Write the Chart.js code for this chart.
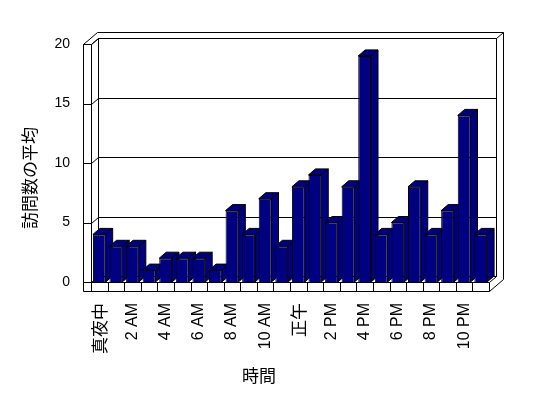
<!DOCTYPE html>
<html lang="ja">
<head>
<meta charset="UTF-8">
<title>訪問数の平均</title>
<script src="https://cdn.jsdelivr.net/npm/chart.js@4.4.1/dist/chart.umd.min.js"></script>
<style>
  html, body { margin: 0; padding: 0; background: #fff; }
  #wrap { width: 548px; height: 398px; }
</style>
</head>
<body>
<div id="wrap"><canvas id="visitChart" width="548" height="398"></canvas></div>
<script>
// data
const hours = ['真夜中', '1 AM', '2 AM', '3 AM', '4 AM', '5 AM', '6 AM', '7 AM', '8 AM', '9 AM', '10 AM', '11 AM',
               '正午', '1 PM', '2 PM', '3 PM', '4 PM', '5 PM', '6 PM', '7 PM', '8 PM', '9 PM', '10 PM', '11 PM'];
const visits = [4, 3, 3, 1, 2, 2, 2, 1, 6, 4, 7, 3, 8, 9, 5, 8, 19, 4, 5, 8, 4, 6, 14, 4];
const yTicks = [0, 5, 10, 15, 20];
const xTitle = '時間';
const yTitle = '訪問数の平均';

const NAVY = '#000080';
const DX = 7, DY = -6;      // depth of the fake 3d
const WALL = 8, FLOOR = 9;  // wall / floor thickness
const LATIN = '"Liberation Sans", "Noto Sans CJK JP", sans-serif';
const CJK = '"Noto Sans CJK JP", sans-serif';

function line(ctx, pts) {
    ctx.beginPath();
    pts.forEach((p, i) => {
        const px = Math.round(p[0]) + 0.5, py = Math.round(p[1]) + 0.5;
        if (i === 0) ctx.moveTo(px, py); else ctx.lineTo(px, py);
    });
    ctx.stroke();
}

function poly(ctx, pts) {
    ctx.beginPath();
    pts.forEach((p, i) => { if (i === 0) ctx.moveTo(p[0], p[1]); else ctx.lineTo(p[0], p[1]); });
    ctx.closePath();
    ctx.fillStyle = NAVY;
    ctx.fill();
    ctx.stroke();
}

const box3d = {
    id: 'box3d',
    beforeDatasetsDraw(chart) {
        const { ctx, chartArea: a, scales: { x, y } } = chart;
        const L = a.left, R = a.right, T = a.top, B = a.bottom;
        ctx.save();
        ctx.strokeStyle = '#000';
        ctx.lineWidth = 1;
        // walls
        line(ctx, [[L - WALL, B + FLOOR], [L - WALL, T], [L - WALL + 2 * DX, T + 2 * DY], [R + 2 * DX, T + 2 * DY], [R + 2 * DX, B + FLOOR + 2 * DY]]);
        line(ctx, [[L, B], [L, T], [L + DX, T + DY], [R + DX, T + DY], [R + DX, B + DY]]);
        line(ctx, [[L + DX, T + DY], [L + DX, B + DY]]);
        line(ctx, [[R + DX, T + DY], [R + 2 * DX, T + 2 * DY]]);
        // value lines on the walls
        yTicks.forEach(v => {
            const yy = y.getPixelForValue(v);
            line(ctx, [[L - WALL, yy], [L, yy], [L + DX, yy + DY], [R + DX, yy + DY]]);
        });
        // floor
        line(ctx, [[L, B], [R, B], [R + DX, B + DY]]);
        line(ctx, [[L - WALL, B + FLOOR], [R, B + FLOOR], [R + 2 * DX, B + FLOOR + 2 * DY]]);
        const cw = (R - L) / hours.length;
        hours.forEach((h, i) => {
            const xx = x.getPixelForValue(i) - cw / 2;
            line(ctx, [[xx, B], [xx, B + FLOOR]]);
        });
        line(ctx, [[R, B], [R, B + FLOOR]]);
        ctx.restore();
    },
    beforeDatasetDraw() {
        return false; // bars are drawn below, one by one, with their faces
    },
    afterDatasetsDraw(chart) {
        const ctx = chart.ctx;
        ctx.save();
        ctx.strokeStyle = '#000';
        ctx.lineWidth = 1;
        chart.getDatasetMeta(0).data.forEach(bar => {
            const { x, y, base, width } = bar.getProps(['x', 'y', 'base', 'width'], true);
            const l = x - width / 2, r = x + width / 2;
            poly(ctx, [[r, y], [r + DX, y + DY], [r + DX, base + DY], [r, base]]);
            poly(ctx, [[l, y], [l + DX, y + DY], [r + DX, y + DY], [r, y]]);
            bar.draw(ctx);
        });
        ctx.restore();
    },
    afterDraw(chart) {
        const ctx = chart.ctx;
        ctx.save();
        ctx.fillStyle = '#000';
        ctx.font = '17px ' + CJK;
        ctx.textAlign = 'center';
        ctx.textBaseline = 'middle';
        ctx.fillText(xTitle, 259, 376);
        ctx.translate(30, 178);
        ctx.rotate(-Math.PI / 2);
        ctx.fillText(yTitle, 0, 0);
        ctx.restore();
    }
};

const ctx = document.getElementById('visitChart').getContext('2d');
const visitChart = new Chart(ctx, {
    type: 'bar',
    data: {
        labels: hours,
        datasets: [{
            data: visits,
            backgroundColor: NAVY,
            borderColor: '#000',
            borderWidth: 1,
            categoryPercentage: 1,
            barPercentage: 0.77
        }]
    },
    options: {
        responsive: false,
        animation: false,
        layout: { padding: { top: 44, right: 59, bottom: 0, left: 0 } },
        plugins: {
            legend: { display: false },
            tooltip: { enabled: false }
        },
        scales: {
            x: {
                grid: { display: false, drawTicks: false },
                border: { display: false },
                afterFit: scale => { scale.height = 116; },
                ticks: {
                    autoSkip: false,
                    minRotation: 90,
                    maxRotation: 90,
                    padding: 21,
                    color: '#000',
                    callback: (v, i) => i % 2 === 0 ? hours[i] : '',
                    font: c => /[0-9]/.test(hours[c.index] || '') ? { family: LATIN, size: 16 } : { family: CJK, size: 17 }
                }
            },
            y: {
                min: 0,
                max: 20,
                grid: { display: false, drawTicks: false },
                border: { display: false },
                afterFit: scale => { scale.width = 91; },
                afterBuildTicks: scale => { scale.ticks = yTicks.map(v => ({ value: v })); },
                ticks: {
                    padding: 21,
                    color: '#000',
                    font: { family: LATIN, size: 14 }
                }
            }
        }
    },
    plugins: [box3d]
});
</script>
</body>
</html>
